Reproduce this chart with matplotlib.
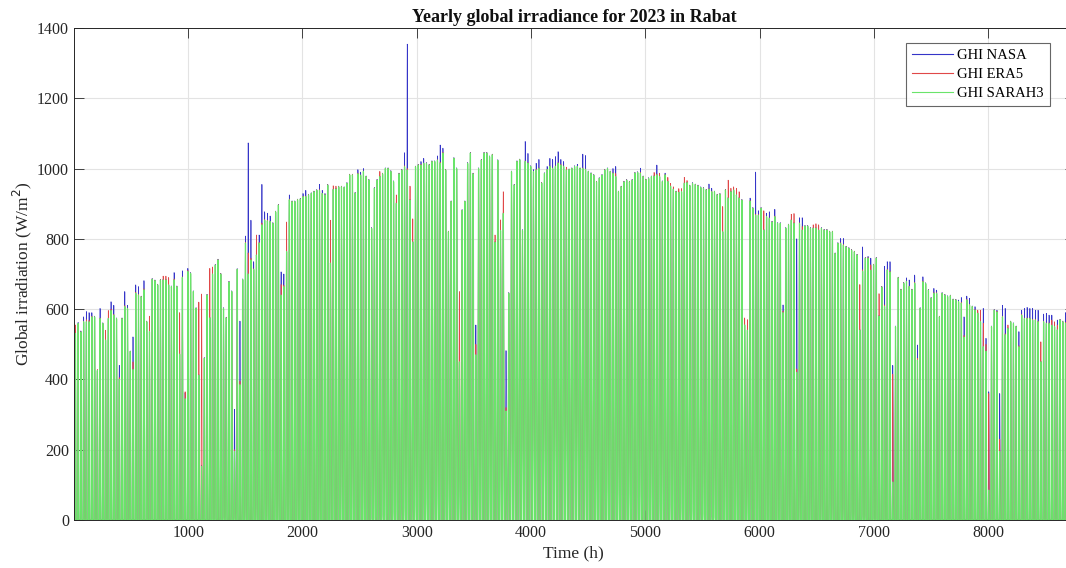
import numpy as np
import matplotlib
matplotlib.use("Agg")
import matplotlib.pyplot as plt

# Daily peak global horizontal irradiance (W/m^2), 2023, Rabat - one value per day
ghi_sarah3_peak = [
    531, 559, 535, 564, 564, 564, 578, 578, 425, 573, 559, 512, 573, 596, 583, 573, 400, 573, 607, 602,
    479, 428, 645, 640, 635, 655, 564, 536, 685, 681, 669, 683, 683, 683, 669, 664, 683, 664, 472, 690,
    345, 707, 702, 650, 602, 412, 153, 460, 640, 575, 700, 725, 740, 700, 602, 575, 677, 650, 195, 713,
    385, 684, 788, 700, 740, 713, 754, 788, 840, 853, 851, 849, 844, 877, 896, 640, 664, 764, 911, 906,
    906, 911, 913, 920, 920, 925, 929, 934, 938, 938, 929, 925, 953, 731, 940, 942, 948, 948, 946, 958,
    982, 982, 930, 985, 981, 992, 977, 967, 830, 944, 967, 977, 985, 1000, 1000, 992, 963, 901, 985, 996,
    1005, 996, 910, 791, 1005, 1010, 1010, 1015, 1015, 1010, 1020, 1020, 1024, 1015, 1044, 996, 820, 906, 1029, 1000,
    450, 881, 906, 1015, 1044, 985, 470, 1000, 1024, 1044, 1044, 1034, 1039, 790, 1023, 824, 872, 310, 645, 991,
    953, 1020, 1025, 824, 1020, 1015, 1006, 991, 996, 1000, 959, 986, 997, 1006, 1000, 1006, 1015, 1010, 1006, 996,
    997, 1000, 1006, 1006, 1000, 1000, 997, 991, 986, 981, 962, 972, 981, 996, 1000, 991, 986, 977, 934, 948,
    962, 967, 962, 967, 987, 989, 987, 977, 968, 972, 977, 978, 982, 977, 963, 982, 963, 950, 941, 934,
    932, 934, 958, 960, 951, 958, 954, 951, 946, 944, 939, 941, 934, 934, 925, 927, 820, 939, 916, 934,
    939, 925, 916, 910, 555, 540, 907, 887, 867, 867, 887, 825, 863, 858, 848, 863, 844, 844, 590, 830,
    840, 853, 844, 420, 844, 825, 836, 836, 830, 830, 830, 825, 830, 825, 825, 820, 820, 758, 787, 787,
    782, 777, 773, 768, 763, 754, 540, 708, 745, 745, 711, 726, 745, 580, 663, 607, 711, 706, 108, 550,
    689, 655, 674, 679, 664, 655, 674, 455, 602, 678, 673, 654, 631, 645, 645, 578, 645, 640, 636, 638,
    627, 626, 621, 617, 520, 626, 612, 607, 597, 588, 564, 493, 480, 85, 550, 597, 592, 195, 578, 527,
    545, 564, 559, 550, 493, 583, 573, 573, 573, 569, 569, 564, 450, 564, 559, 559, 554, 550, 541, 569,
    564, 560, 555, 570, 560,
]

ghi_nasa_peak = [
    540, 562, 538, 578, 593, 590, 590, 580, 427, 602, 561, 515, 575, 621, 611, 575, 440, 575, 650, 611,
    481, 521, 669, 664, 637, 681, 566, 545, 687, 683, 671, 685, 685, 685, 671, 666, 704, 666, 486, 709,
    362, 716, 704, 652, 604, 414, 156, 462, 642, 577, 702, 727, 742, 702, 604, 577, 679, 652, 315, 715,
    566, 686, 808, 1073, 853, 735, 756, 811, 955, 877, 873, 865, 846, 879, 898, 706, 700, 766, 925, 908,
    908, 913, 915, 929, 938, 927, 931, 936, 940, 955, 938, 929, 955, 733, 942, 944, 950, 950, 948, 960,
    984, 984, 932, 997, 990, 1000, 979, 969, 832, 946, 969, 979, 987, 1002, 1002, 994, 965, 903, 987, 998,
    1045, 1354, 912, 793, 1007, 1012, 1020, 1029, 1017, 1012, 1022, 1022, 1036, 1067, 1058, 998, 822, 908, 1031, 1002,
    452, 883, 908, 1017, 1046, 987, 555, 1002, 1026, 1046, 1046, 1036, 1041, 792, 1025, 826, 874, 482, 647, 993,
    955, 1022, 1027, 826, 1077, 1043, 1008, 997, 1015, 1026, 961, 988, 1006, 1029, 1026, 1034, 1048, 1026, 1020, 998,
    999, 1002, 1008, 1012, 1002, 1041, 1037, 993, 988, 983, 964, 974, 983, 998, 1002, 993, 1000, 1006, 936, 950,
    964, 969, 964, 969, 989, 991, 1001, 979, 970, 974, 979, 980, 1010, 979, 965, 987, 965, 952, 943, 936,
    934, 936, 960, 962, 953, 960, 956, 953, 948, 946, 941, 956, 944, 936, 927, 929, 822, 941, 918, 936,
    941, 927, 918, 912, 557, 542, 916, 889, 990, 880, 889, 827, 873, 877, 850, 884, 846, 846, 612, 832,
    842, 855, 846, 800, 860, 860, 838, 838, 832, 832, 832, 827, 832, 827, 827, 822, 822, 760, 789, 801,
    801, 779, 775, 770, 765, 756, 542, 777, 747, 750, 745, 728, 747, 582, 665, 722, 735, 735, 440, 552,
    691, 657, 676, 689, 683, 657, 697, 498, 604, 692, 675, 656, 633, 659, 654, 580, 647, 642, 638, 640,
    629, 628, 626, 633, 578, 637, 631, 609, 607, 590, 566, 602, 517, 365, 552, 599, 597, 360, 611, 602,
    547, 566, 561, 552, 536, 597, 602, 605, 602, 602, 597, 597, 452, 586, 588, 583, 583, 552, 569, 571,
    566, 590, 585, 596, 588,
]

ghi_era5_peak = [
    555, 558, 536, 566, 570, 568, 580, 578, 428, 575, 560, 540, 596, 600, 585, 574, 405, 574, 610, 603,
    480, 450, 648, 642, 636, 658, 565, 580, 686, 682, 670, 684, 694, 694, 690, 665, 686, 665, 590, 692,
    365, 710, 703, 651, 603, 620, 643, 461, 641, 716, 720, 726, 741, 701, 603, 576, 678, 651, 200, 714,
    395, 685, 790, 760, 745, 715, 811, 790, 845, 855, 853, 850, 845, 878, 897, 670, 668, 848, 913, 907,
    907, 912, 914, 921, 922, 926, 930, 935, 939, 940, 930, 926, 954, 853, 951, 950, 949, 949, 947, 959,
    983, 983, 931, 987, 982, 993, 978, 968, 831, 945, 968, 992, 986, 1001, 1001, 993, 964, 925, 986, 997,
    1008, 1000, 950, 857, 1006, 1011, 1012, 1016, 1016, 1011, 1021, 1021, 1025, 1018, 1046, 997, 821, 907, 1030, 1001,
    650, 882, 907, 1016, 1045, 986, 500, 1001, 1025, 1045, 1045, 1035, 1040, 811, 1024, 854, 934, 320, 646, 992,
    954, 1021, 1026, 825, 1022, 1017, 1007, 992, 998, 1002, 960, 987, 998, 1008, 1002, 1008, 1017, 1012, 1008, 1004,
    998, 1001, 1007, 1007, 1001, 1002, 999, 992, 987, 982, 963, 973, 982, 997, 1001, 992, 988, 986, 935, 949,
    963, 968, 963, 968, 988, 990, 989, 978, 969, 973, 978, 989, 984, 987, 964, 983, 975, 958, 948, 935,
    943, 943, 975, 966, 952, 959, 955, 952, 947, 945, 940, 943, 936, 935, 926, 928, 892, 940, 967, 944,
    948, 944, 934, 911, 575, 570, 909, 888, 870, 869, 888, 880, 865, 860, 849, 865, 845, 845, 595, 831,
    841, 870, 872, 430, 846, 835, 837, 837, 831, 840, 843, 840, 831, 826, 826, 821, 821, 759, 788, 789,
    784, 778, 774, 769, 764, 755, 670, 712, 746, 747, 726, 727, 746, 644, 664, 612, 713, 708, 415, 551,
    690, 656, 675, 680, 666, 656, 676, 460, 603, 680, 674, 655, 632, 647, 647, 579, 646, 641, 637, 639,
    628, 627, 622, 619, 525, 628, 614, 608, 599, 597, 597, 560, 500, 360, 551, 598, 594, 230, 580, 530,
    555, 565, 560, 551, 496, 585, 575, 575, 575, 571, 571, 566, 507, 566, 561, 561, 569, 564, 555, 570,
    565, 562, 558, 572, 562,
]

series_names = ["GHI NASA", "GHI ERA5", "GHI SARAH3"]
series_colors = ["#3535c8", "#e04848", "#6ae46a"]
series_widths = [0.5, 0.5, 0.85]

x_ticks = [1000, 2000, 3000, 4000, 5000, 6000, 7000, 8000]
y_ticks = [0, 200, 400, 600, 800, 1000, 1200, 1400]

# Hourly curves: each day's peak shaped by the sun's elevation at Rabat (34 N)
lat = np.radians(34.0)
n_days = len(ghi_sarah3_peak)
day_of_year = np.arange(1, n_days + 1)
decl = np.radians(23.44) * np.sin(2 * np.pi * (284 + day_of_year) / 365.0)
hour_of_day = np.arange(24)
omega = np.radians(15.0 * (hour_of_day - 12.45))
cosz = (np.sin(lat) * np.sin(decl)[:, None]
        + np.cos(lat) * np.cos(decl)[:, None] * np.cos(omega)[None, :])
shape = np.clip(cosz, 0, None) ** 1.15
shape = shape / shape.max(axis=1, keepdims=True)


def hourly(peaks):
    return (np.asarray(peaks, float)[:, None] * shape).ravel()


hours = np.arange(1, n_days * 24 + 1)
curves = [hourly(ghi_nasa_peak), hourly(ghi_era5_peak), hourly(ghi_sarah3_peak)]

W, H = 1066, 568
fig = plt.figure(figsize=(W / 100, H / 100), dpi=100)
plt.rcParams["font.family"] = ["Liberation Serif", "DejaVu Serif"]

left, right, top, bottom = 74, 1075, 28, 520
ax = fig.add_axes([left / W, 1 - bottom / H, (right - left) / W, (bottom - top) / H])

for y, name, col, lw in zip(curves, series_names, series_colors, series_widths):
    ax.plot(hours, y, color=col, lw=lw, label=name)

ax.set_xlim(1, n_days * 24)
ax.set_ylim(0, 1400)
ax.set_xticks(x_ticks)
ax.set_yticks(y_ticks)
ax.grid(True, color="#e3e3e3", lw=0.8)
ax.set_axisbelow(True)
ax.tick_params(direction="in", length=7, width=0.6, colors="#262626",
               labelsize=11.5, top=True, right=True, labelcolor="#262626")
for s in ax.spines.values():
    s.set_color("#262626")
    s.set_linewidth(0.7)

ax.set_title("Yearly global irradiance for 2023 in Rabat", fontsize=13,
             fontweight="bold", color="#111111", pad=4)
fig.text(573 / W, 1 - 553 / H, "Time (h)", ha="center", va="center",
         fontsize=12.5, color="#262626")
fig.text(22 / W, 1 - 274 / H, "Global irradiation (W/m$^2$)", ha="center",
         va="center", rotation=90, fontsize=12.5, color="#262626")

leg = ax.legend(loc="upper left", bbox_to_anchor=(906 / W, 1 - 43 / H),
                bbox_transform=fig.transFigure, fontsize=10.5, frameon=True,
                fancybox=False, edgecolor="#404040", handlelength=2.8,
                borderpad=0.4, labelspacing=0.4, handletextpad=0.3,
                borderaxespad=0)
leg.get_frame().set_linewidth(0.8)
for ln in leg.get_lines():
    ln.set_linewidth(0.8)

fig.savefig("out.png", dpi=100)
